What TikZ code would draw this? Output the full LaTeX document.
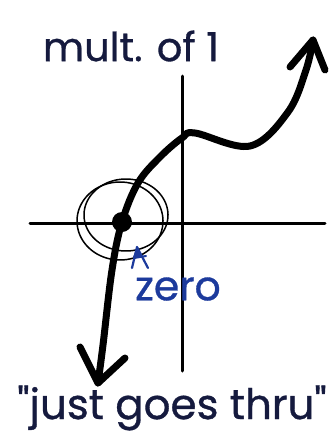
\documentclass[tikz,border=0pt]{standalone}
\usepackage{fontspec}
\setmainfont{Poppins}
\newfontfamily\hand{Poppins}[FakeBold=0.8]
\definecolor{ink}{HTML}{151A3E}
\definecolor{blueink}{HTML}{1C3A9C}
\begin{document}
\begin{tikzpicture}[x=1pt,y=-1pt,
  axis/.style={line width=3pt,line cap=round},
  curve/.style={line width=7pt,line cap=round,line join=round},
  ring/.style={line width=1.5pt},
  lbl/.style={inner sep=0pt,text=ink},
]
\useasboundingbox (0,0) rectangle (331,445);
% axes
\coordinate (yt) at (182,76);
\coordinate (yb) at (182,371);
\coordinate (xl) at (30,223);
\coordinate (xr) at (325,223);
\draw[axis] (yt) -- (yb);
\draw[axis] (xl) -- (xr);
% circles around the zero
\draw[ring] plot[domain=0:360,samples=90,smooth] ({120+43*cos(\x)},{221+39*sin(\x)}) -- cycle;
\draw[ring] plot[domain=0:360,samples=90,smooth] ({126+42*cos(\x)},{215+36*sin(\x)}) -- cycle;
% curve
\coordinate (tipb) at (98,383);
\coordinate (tipt) at (313,40);
\draw[curve] plot[smooth,tension=0.6] coordinates {(98,383) (103,345) (112,270) (122,222) (138,183) (160,157) (182,138) (195,133) (250,146) (288,112) (306,70) (313,40)};
\draw[curve] (80,347) -- (tipb) -- (125,358);
\draw[curve] (290,67) -- (tipt) -- (325,70);
% dot
\fill (122,222) circle [radius=10pt];
% little arrow
\draw[blueink,line width=2.2pt,line cap=round,line join=round] (132,268) -- (137,247) -- (148,268);
\draw[blueink,line width=2pt,line cap=round] (134,258) -- (146,256);
\fill[blueink] (137,247) -- (133,257) -- (143,257) -- cycle;
% texts
\node[lbl,font=\hand\fontsize{40}{44}\selectfont] (m) at (131,46) {mult. of 1};
\node[lbl,text=blueink,font=\hand\fontsize{41}{44}\selectfont] (z) at (178,289) {zero};
\node[lbl,font=\hand\fontsize{42}{46}\selectfont] (j) at (172,408) {"just goes thru"};
\end{tikzpicture}
\end{document}
